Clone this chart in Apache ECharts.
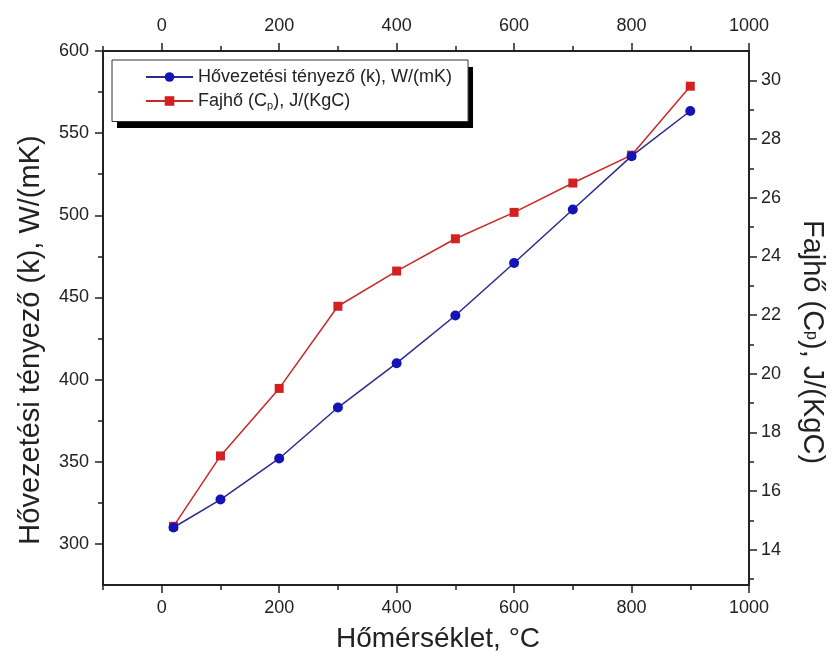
<!DOCTYPE html>
<html>
<head>
<meta charset="utf-8">
<script src="https://cdn.jsdelivr.net/npm/echarts@6/dist/echarts.min.js"></script>
<style>
  html, body { margin: 0; padding: 0; background: #fff; }
  #chart { width: 834px; height: 668px; }
</style>
</head>
<body>
<div id="chart"></div>
<script>
// hőmérséklet (°C)
var temps = [20, 100, 200, 300, 400, 500, 600, 700, 800, 900];
// hővezetési tényező, W/(mK) - bal tengely
var conductivity = [310, 327, 352, 383, 410, 439, 471, 503.5, 536, 563.5];
// fajhő, J/(KgC) - jobb tengely
var heatCapacity = [14.8, 17.2, 19.5, 22.3, 23.5, 24.6, 25.5, 26.5, 27.45, 29.8];

var xMajor = [0, 200, 400, 600, 800, 1000];
var xMinor = [-100, 100, 300, 500, 700, 900];
var leftMajor = [300, 350, 400, 450, 500, 550, 600];
var leftMinor = [325, 375, 425, 475, 525, 575];
var rightMajor = [14, 16, 18, 20, 22, 24, 26, 28, 30];
var rightMinor = [13, 15, 17, 19, 21, 23, 25, 27, 29];

var names = ['Hővezetési tényező (k), W/(mK)', 'Fajhő (C_p), J/(KgC)'];

var font = 'Liberation Sans, Arial, sans-serif';
var axisColor = '#222';

function pairs(xs, ys) {
  return xs.map(function (x, i) { return [x, ys[i]]; });
}

// fő tengely (címkék + nagy osztások)
function mainAxis(pos, min, max, major, margin, extra) {
  var a = {
    type: 'value',
    position: pos,
    min: min,
    max: max,
    splitLine: { show: false },
    axisLine: { show: true, onZero: false, lineStyle: { color: axisColor, width: 2 } },
    axisTick: { show: true, inside: false, length: 8, customValues: major, lineStyle: { color: axisColor, width: 1.5 } },
    axisLabel: {
      show: true, customValues: major, color: '#222', fontSize: 18, fontFamily: font, margin: margin,
      formatter: function (v) { return String(v); }
    }
  };
  for (var k in extra) a[k] = extra[k];
  return a;
}

// segédtengely csak a kis osztásokhoz
function minorAxis(pos, min, max, minor) {
  return {
    type: 'value',
    position: pos,
    min: min,
    max: max,
    splitLine: { show: false },
    axisLine: { show: false, onZero: false },
    axisTick: { show: true, inside: false, length: 5, customValues: minor, lineStyle: { color: axisColor, width: 1.5 } },
    axisLabel: { show: false }
  };
}

var myChart = echarts.init(document.getElementById('chart'));
myChart.setOption({
  backgroundColor: '#fff',
  animation: false,
  grid: { left: 103, right: 81, top: 51, bottom: 83 },
  // jelmagyarázat árnyéka (fekete, éles)
  graphic: [{
    type: 'rect',
    z: 1,
    shape: { x: 117, y: 67, width: 356, height: 61 },
    style: { fill: '#000' }
  }],
  legend: {
    orient: 'vertical',
    left: 112,
    top: 60,
    z: 5,
    itemWidth: 47,
    itemHeight: 12,
    itemGap: 6,
    padding: [8, 16, 10, 33],
    backgroundColor: '#fff',
    borderColor: '#333',
    borderWidth: 1,
    data: names,
    formatter: function (name) {
      return name === names[1] ? 'Fajhő (C{sub|p}), J/(KgC)' : name;
    },
    textStyle: {
      color: '#222',
      fontSize: 18,
      fontFamily: font,
      rich: {
        sub: { fontSize: 11, fontFamily: font, color: '#222', padding: [10, 0, 0, 0] }
      }
    }
  },
  xAxis: [
    mainAxis('bottom', -100, 1000, xMajor, 14, {
      name: 'Hőmérséklet, °C',
      nameLocation: 'middle',
      nameGap: 40,
      nameTextStyle: { color: '#222', fontSize: 28, fontFamily: font, padding: [0, 0, 0, 24] }
    }),
    mainAxis('top', -100, 1000, xMajor, 16, {}),
    minorAxis('bottom', -100, 1000, xMinor),
    minorAxis('top', -100, 1000, xMinor)
  ],
  yAxis: [
    mainAxis('left', 275, 600, leftMajor, 14, {
      name: 'Hővezetési tényező (k), W/(mK)',
      nameLocation: 'middle',
      nameGap: 58,
      nameTextStyle: { color: '#222', fontSize: 29, fontFamily: font, padding: [0, 44, 0, 0] }
    }),
    mainAxis('right', 12.8, 31, rightMajor, 12, {
      name: 'Fajhő (C{sub|p}), J/(KgC)',
      nameLocation: 'middle',
      nameRotate: -90,
      nameGap: 48,
      nameTextStyle: {
        color: '#222', fontSize: 29, fontFamily: font, padding: [0, 0, 0, 48],
        rich: { sub: { fontSize: 16, fontFamily: font, color: '#222' } }
      }
    }),
    minorAxis('left', 275, 600, leftMinor),
    minorAxis('right', 12.8, 31, rightMinor)
  ],
  series: [
    {
      name: names[0],
      type: 'line',
      xAxisIndex: 0,
      yAxisIndex: 0,
      z: 4,
      data: pairs(temps, conductivity),
      symbol: 'circle',
      symbolSize: 10,
      color: '#1414b4',
      lineStyle: { color: '#2a2a90', width: 1.5 },
      itemStyle: { color: '#1414b4' }
    },
    {
      name: names[1],
      type: 'line',
      xAxisIndex: 0,
      yAxisIndex: 1,
      z: 3,
      data: pairs(temps, heatCapacity),
      symbol: 'rect',
      symbolSize: 9,
      color: '#d42020',
      lineStyle: { color: '#c82828', width: 1.5 },
      itemStyle: { color: '#d42020' }
    }
  ]
});
</script>
</body>
</html>
